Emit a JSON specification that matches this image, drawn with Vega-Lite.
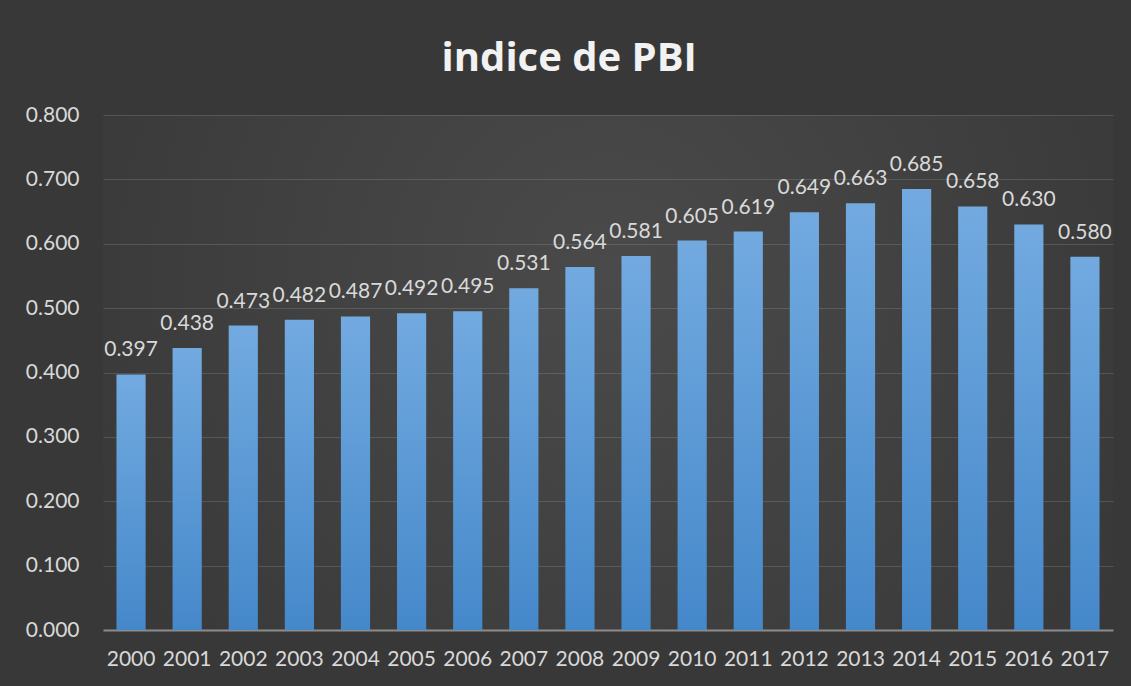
{
  "$schema": "https://vega.github.io/schema/vega-lite/v6.json",
  "width": 1010,
  "height": 515,
  "autosize": {"type": "none"},
  "padding": {"left": 103, "top": 115, "right": 18, "bottom": 56},
  "background": "#383838",
  "view": {
    "stroke": null,
    "fill": {
      "gradient": "radial",
      "x1": 0.5, "y1": 0.4, "r1": 0,
      "x2": 0.5, "y2": 0.4, "r2": 0.6,
      "stops": [
        {"offset": 0, "color": "#4a4a4a"},
        {"offset": 1, "color": "#383838"}
      ]
    }
  },
  "title": {
    "text": "indice de PBI",
    "font": "Open Sans",
    "fontSize": 40,
    "fontWeight": "bold",
    "color": "#f2f2f2",
    "anchor": "middle",
    "frame": "bounds",
    "baseline": "alphabetic",
    "offset": -7
  },
  "data": {
    "values": [
      {"year": "2000", "value": 0.397},
      {"year": "2001", "value": 0.438},
      {"year": "2002", "value": 0.473},
      {"year": "2003", "value": 0.482},
      {"year": "2004", "value": 0.487},
      {"year": "2005", "value": 0.492},
      {"year": "2006", "value": 0.495},
      {"year": "2007", "value": 0.531},
      {"year": "2008", "value": 0.564},
      {"year": "2009", "value": 0.581},
      {"year": "2010", "value": 0.605},
      {"year": "2011", "value": 0.619},
      {"year": "2012", "value": 0.649},
      {"year": "2013", "value": 0.663},
      {"year": "2014", "value": 0.685},
      {"year": "2015", "value": 0.658},
      {"year": "2016", "value": 0.630},
      {"year": "2017", "value": 0.580}
    ]
  },
  "encoding": {
    "x": {
      "field": "year",
      "type": "ordinal",
      "scale": {"paddingInner": 0.48, "paddingOuter": 0.24},
      "axis": {
        "title": null,
        "labelAngle": 0,
        "labelFont": "Lato",
        "labelFontSize": 21,
        "labelColor": "#d9d9d9",
        "labelPadding": 18,
        "ticks": false,
        "tickSize": 0,
        "domainColor": "#8c8c8c",
        "domainWidth": 2,
        "grid": false
      }
    },
    "y": {
      "field": "value",
      "type": "quantitative",
      "scale": {"domain": [0, 0.8], "nice": false},
      "axis": {
        "title": null,
        "values": [0, 0.1, 0.2, 0.3, 0.4, 0.5, 0.6, 0.7, 0.8],
        "format": ".3f",
        "labelFont": "Lato",
        "labelFontSize": 21,
        "labelColor": "#d9d9d9",
        "labelPadding": 24,
        "ticks": false,
        "tickSize": 0,
        "domain": false,
        "grid": true,
        "gridColor": "#ffffff",
        "gridOpacity": 0.13,
        "gridWidth": 1
      }
    }
  },
  "layer": [
    {
      "mark": {
        "type": "bar",
        "color": {
          "gradient": "linear",
          "x1": 0, "y1": 0, "x2": 0, "y2": 1,
          "stops": [
            {"offset": 0, "color": "#72aae0"},
            {"offset": 1, "color": "#4588ca"}
          ]
        }
      }
    },
    {
      "mark": {
        "type": "text",
        "font": "Lato",
        "fontSize": 21,
        "color": "#d9d9d9",
        "baseline": "alphabetic",
        "dy": -18
      },
      "encoding": {
        "text": {"field": "value", "type": "quantitative", "format": ".3f"}
      }
    }
  ]
}
